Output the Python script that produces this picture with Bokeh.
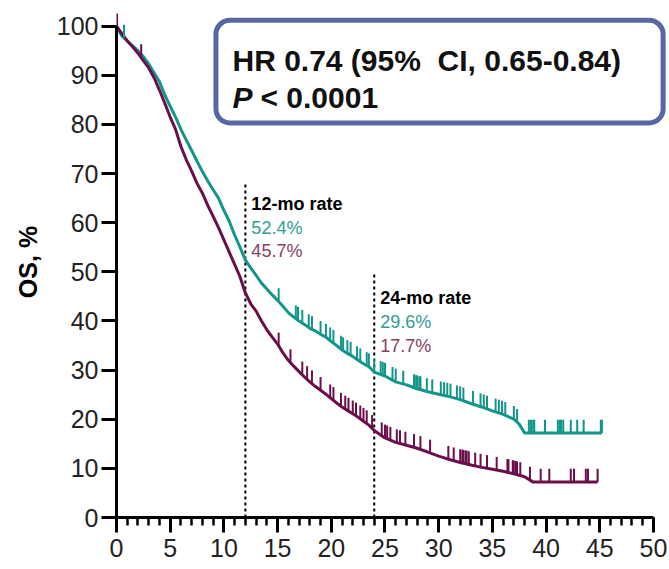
from bokeh.plotting import figure
from bokeh.models import Range1d, BoxAnnotation, FixedTicker
from bokeh.core.properties import value
from bokeh.embed import file_html
from bokeh.resources import INLINE

# ---------------- data ----------------
teal_t = [0, 0.5, 1, 1.5, 2, 2.5, 3, 3.5, 4, 4.5, 5, 5.5, 6, 6.5, 7, 7.5, 8, 8.5, 9, 9.5,
          10, 10.5, 11, 11.5, 12, 12.5, 13, 13.5, 14, 14.5, 15, 15.5, 16, 16.5, 17, 17.5,
          18, 18.5, 19, 19.5, 20, 20.5, 21, 21.5, 22, 22.5, 23, 23.5, 24, 25, 26, 27, 28,
          29, 30, 31, 32, 33, 34, 35, 36, 37, 37.5, 38, 45.2]
teal_s = [100, 98, 97, 96, 95, 93.8, 92.3, 90.5, 88.7, 86, 83.7, 81.5, 79, 76.8, 74.7, 72.5,
          70.4, 68.5, 66.7, 65, 62.5, 60.3, 57.5, 55, 52.4, 50.8, 49.3, 47.7, 46.5, 45.3,
          44.2, 43, 41.7, 40.8, 40, 39.3, 38.5, 38, 37.3, 36.7, 35.8, 35, 34.1, 33.4, 32.8,
          32, 31.3, 30.7, 29.6, 28.8, 27.6, 27, 26.2, 25.6, 25.1, 24.6, 24, 23.2, 22.5,
          21.7, 21, 20, 19, 17.2, 17.2]
teal_censor = [0.7, 15.1, 16.7, 16.9, 17.3, 17.9, 18.2, 19.0, 19.5, 19.9, 20.2, 20.9, 21.1,
               21.5, 21.8, 22.4, 22.7, 23.3, 23.5, 24.0, 24.6, 24.8, 25.0, 25.7, 26.0, 26.7,
               27.7, 27.9, 28.0, 28.2, 28.3, 28.9, 29.4, 30.2, 30.5, 30.8, 31.1, 31.7, 32.0,
               32.3, 33.2, 33.9, 34.2, 34.5, 35.3, 35.6, 35.9, 36.2, 37.0, 37.3, 38.4, 38.6,
               38.8, 38.9, 39.9, 41.1, 41.3, 41.4, 41.6, 42.3, 42.9, 43.5, 45.1, 45.2]

maroon_t = [0, 0.5, 1, 1.5, 2, 2.5, 3, 3.5, 4, 4.5, 5, 5.5, 6, 6.5, 7, 7.5, 8, 8.5, 9, 9.5,
            10, 10.5, 11, 11.5, 12, 12.5, 13, 13.5, 14, 14.5, 15, 15.5, 16, 16.5, 17, 17.5,
            18, 18.5, 19, 19.5, 20, 20.5, 21, 21.5, 22, 22.5, 23, 23.5, 24, 25, 26, 27, 28,
            29, 30, 31, 32, 33, 34, 35, 36, 37, 38, 38.8, 44.8]
maroon_s = [100, 98.5, 97, 95.8, 94.5, 93, 91.5, 89.5, 87, 84.3, 81.5, 79, 75.5, 72.8, 70.5,
            68, 66, 63.5, 61.3, 59, 56.5, 54, 51.5, 49, 45.7, 43.5, 42, 40, 38.2, 36.7, 35.3,
            33.5, 32, 30.8, 29.7, 28.6, 27.6, 26.7, 25.9, 25.1, 24.2, 23.3, 22.5, 21.8, 21.1,
            20.4, 19.6, 18.8, 17.7, 16.2, 15.3, 14.7, 14.1, 13.3, 12.5, 11.8, 11.2, 10.7,
            10.2, 9.8, 9.4, 8.9, 8.3, 7.2, 7.2]
maroon_censor = [0.05, 2.3, 15.1, 16.2, 17.3, 17.75, 18.2, 19.0, 19.9, 20.2, 20.9, 21.3, 21.6,
                 22.0, 22.3, 22.7, 23.0, 23.3, 23.8, 24.7, 25.0, 25.2, 25.5, 26.1, 26.4, 26.9,
                 27.7, 28.3, 29.2, 30.9, 31.4, 32.0, 32.2, 32.3, 32.5, 32.6, 32.8, 33.4, 33.9,
                 34.5, 35.4, 36.4, 36.5, 36.9, 37.0, 37.2, 37.3, 37.6, 38.5, 39.5, 40.3, 42.3,
                 42.6, 43.7, 43.9, 44.8]

landmark_months = [12, 24]
teal_rates = ["52.4%", "29.6%"]
maroon_rates = ["45.7%", "17.7%"]
x_ticks = list(range(0, 51, 5))
y_ticks = list(range(0, 101, 10))
hr_text = "HR 0.74 (95%\u00a0\u00a0CI, 0.65-0.84)"
p_label = "P"
p_text = "< 0.0001"

TEAL = "#12968a"
MAROON = "#6a0f4a"
TEAL_TXT = "#2f9d92"
MAROON_TXT = "#86415f"
FONT = "Liberation Sans"


def surv_at(ts, ss, t):
    """piecewise-linear read of the drawn curve at time t"""
    for i in range(1, len(ts)):
        if t <= ts[i]:
            t0, t1 = ts[i - 1], ts[i]
            s0, s1 = ss[i - 1], ss[i]
            return s0 + (s1 - s0) * (t - t0) / (t1 - t0)
    return ss[-1]


p = figure(width=669, height=569, output_backend="svg", toolbar_location=None,
           x_range=Range1d(0, 51.4), y_range=Range1d(0, 104),
           min_border_left=116, min_border_right=1, min_border_top=6, min_border_bottom=52)
p.outline_line_color = None
p.xgrid.grid_line_color = None
p.ygrid.grid_line_color = None
p.background_fill_color = "white"
p.border_fill_color = "white"

# axes
xa = p.xaxis[0]
xa.ticker = FixedTicker(ticks=x_ticks, minor_ticks=list(range(0, 51)))
xa.bounds = (0, 50)
xa.axis_line_width = 3
xa.major_tick_line_width = 3
xa.minor_tick_line_width = 2.5
xa.major_tick_out = 15
xa.major_tick_in = 0
xa.minor_tick_out = 8
xa.minor_tick_in = 0
xa.major_label_text_font = FONT
xa.major_label_text_font_size = "25px"
xa.major_label_text_color = "#222222"
xa.major_label_standoff = 6

ya = p.yaxis[0]
ya.ticker = FixedTicker(ticks=y_ticks)
ya.bounds = (0, 100)
ya.axis_line_width = 3
ya.major_tick_line_width = 3
ya.major_tick_out = 15
ya.major_tick_in = 0
ya.minor_tick_line_color = None
ya.major_label_text_font = FONT
ya.major_label_text_font_size = "25px"
ya.major_label_text_color = "#222222"
ya.major_label_standoff = 3
ya.axis_label = "OS, %"
ya.axis_label_text_font = FONT
ya.axis_label_text_font_style = "bold"
ya.axis_label_text_font_size = "25px"
ya.axis_label_text_color = "black"
ya.axis_label_standoff = 12

# HR box (under the glyphs)
box = BoxAnnotation(left=9.26, right=50.9, top=101.2, bottom=80.3,
                    fill_color="white", fill_alpha=1.0,
                    line_color="#5a66a3", line_alpha=1.0, line_width=5,
                    border_radius=14, level="underlay")
p.add_layout(box)

# landmark dashed lines
p.segment(x0=landmark_months, y0=[0, 0], x1=landmark_months, y1=[68, 50],
          line_color="black", line_width=2, line_dash="3 3")

# KM curves
p.line(teal_t, teal_s, line_color=TEAL, line_width=3)
p.line(maroon_t, maroon_s, line_color=MAROON, line_width=3)

# censor marks
tc_y = [surv_at(teal_t, teal_s, t) for t in teal_censor]
mc_y = [surv_at(maroon_t, maroon_s, t) for t in maroon_censor]
p.segment(x0=teal_censor, y0=tc_y, x1=teal_censor, y1=[v + 2.7 for v in tc_y],
          line_color=TEAL, line_width=2)
p.segment(x0=maroon_censor, y0=mc_y, x1=maroon_censor, y1=[v + 2.7 for v in mc_y],
          line_color=MAROON, line_width=2)

# rate annotations
p.text(x=landmark_months, y=[63.9, 44.6], text=["12-mo rate", "24-mo rate"],
       x_offset=6, text_font=value(FONT), text_font_style="bold",
       text_font_size="18px", text_color="black", text_baseline="alphabetic")
p.text(x=landmark_months, y=[59.0, 39.7], text=teal_rates,
       x_offset=6, text_font=value(FONT),
       text_font_size="18px", text_color=TEAL_TXT, text_baseline="alphabetic")
p.text(x=landmark_months, y=[54.2, 35.0], text=maroon_rates,
       x_offset=6, text_font=value(FONT),
       text_font_size="18px", text_color=MAROON_TXT, text_baseline="alphabetic")

# HR text
p.text(x=[10.8], y=[93.0], text=[hr_text],
       text_font=value(FONT), text_font_style="bold",
       text_font_size="30px", text_color="#111111", text_baseline="alphabetic")
p.text(x=[10.8], y=[85.5], text=[p_label],
       text_font=value(FONT), text_font_style="bold italic",
       text_font_size="30px", text_color="#111111", text_baseline="alphabetic")
p.text(x=[10.8], y=[85.5], text=[p_text], x_offset=28,
       text_font=value(FONT), text_font_style="bold",
       text_font_size="30px", text_color="#111111", text_baseline="alphabetic")

open("out.html", "w").write(file_html(p, INLINE))
